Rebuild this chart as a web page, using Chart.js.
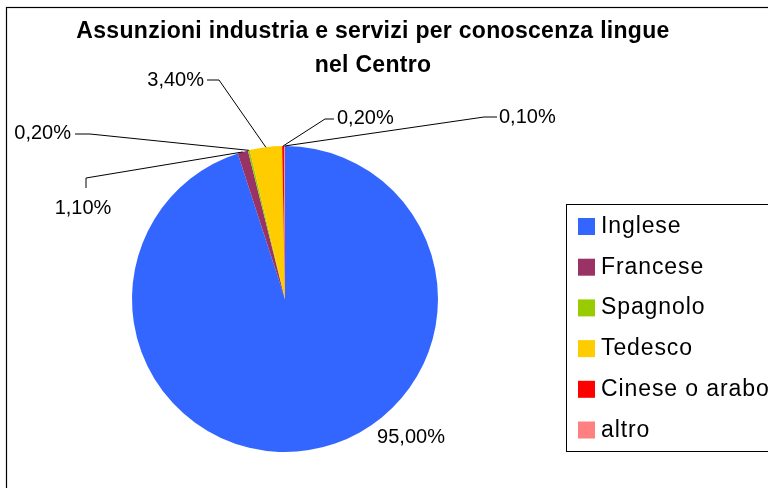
<!DOCTYPE html>
<html>
<head>
<meta charset="utf-8">
<script src="https://cdn.jsdelivr.net/npm/chart.js@4"></script>
<style>
  html, body { margin: 0; padding: 0; background: #fff; }
  #wrap { width: 768px; height: 488px; position: relative; }
</style>
</head>
<body>
<div id="wrap"><canvas id="myChart" width="768" height="488"></canvas></div>
<script>
// data
const TITLE_LINES = ["Assunzioni industria e servizi per conoscenza lingue", "nel Centro"];
const LANGUAGES = ["Inglese", "Francese", "Spagnolo", "Tedesco", "Cinese o arabo", "altro"];
const SHARES = [95.0, 1.1, 0.2, 3.4, 0.2, 0.1];
const COLORS = ["#3366ff", "#993366", "#99cc00", "#ffcc00", "#ff0000", "#ff8080"];

const FONT = "'Liberation Sans', Arial, sans-serif";

// where each percentage label goes, and the bends of its leader line
// (label x/y, text align, leader points after the slice anchor)
const LABEL_PLACES = [
  { x: 411, y: 437, align: 'center', bends: null },
  { x: 83, y: 208, align: 'center', bends: [[86, 178], [86, 188]] },
  { x: 71, y: 133, align: 'right', bends: [[90, 134], [75, 134]] },
  { x: 204, y: 80, align: 'right', bends: [[219, 80], [207, 80]] },
  { x: 337, y: 118, align: 'left', bends: [[325, 119], [334, 119]] },
  { x: 499, y: 117, align: 'left', bends: [[484, 117], [497, 117]] },
];

function fmtPct(v) {
  return v.toFixed(2).replace('.', ',') + '%';
}

// draws frame, title, leader labels and legend box
const decorPlugin = {
  id: 'decor',
  afterDraw(chart) {
    const ctx = chart.ctx;
    ctx.save();

    // outer frame (runs off the right and bottom edge)
    ctx.strokeStyle = '#000';
    ctx.lineWidth = 1.2;
    ctx.strokeRect(6.5, 7.5, 900, 900);

    // title
    ctx.fillStyle = '#000';
    ctx.font = 'bold 23px ' + FONT;
    ctx.letterSpacing = '0.3px';
    ctx.textAlign = 'center';
    ctx.textBaseline = 'alphabetic';
    ctx.fillText(TITLE_LINES[0], 373, 38);
    ctx.fillText(TITLE_LINES[1], 373, 72);
    ctx.letterSpacing = '0px';

    // percentage labels with leader lines
    const arcs = chart.getDatasetMeta(0).data;
    ctx.font = '20px ' + FONT;
    ctx.lineWidth = 1;
    arcs.forEach((arc, i) => {
      const p = LABEL_PLACES[i];
      const mid = (arc.startAngle + arc.endAngle) / 2;
      const ax = arc.x + Math.cos(mid) * arc.outerRadius;
      const ay = arc.y + Math.sin(mid) * arc.outerRadius;
      if (p.bends) {
        ctx.beginPath();
        ctx.moveTo(ax, ay);
        p.bends.forEach(b => ctx.lineTo(b[0], b[1]));
        ctx.strokeStyle = '#000';
        ctx.stroke();
      }
      ctx.textAlign = p.align;
      ctx.textBaseline = 'middle';
      ctx.fillText(fmtPct(SHARES[i]), p.x, p.y);
    });

    // legend
    ctx.strokeStyle = '#000';
    ctx.lineWidth = 1;
    ctx.strokeRect(566.5, 204.5, 400, 247);
    ctx.font = '23px ' + FONT;
    ctx.letterSpacing = '0.9px';
    ctx.textAlign = 'left';
    ctx.textBaseline = 'alphabetic';
    LANGUAGES.forEach((name, i) => {
      const top = 218 + i * 40.7;
      ctx.fillStyle = COLORS[i];
      ctx.fillRect(578, top, 17, 17);
      ctx.fillStyle = '#000';
      ctx.fillText(name, 601, top + 15);
    });

    ctx.restore();
  }
};

const ctx = document.getElementById('myChart').getContext('2d');
const pieChart = new Chart(ctx, {
  type: 'pie',
  data: {
    labels: LANGUAGES,
    datasets: [{
      data: SHARES,
      backgroundColor: COLORS,
      borderWidth: 0,
    }]
  },
  options: {
    responsive: false,
    animation: false,
    layout: {
      // puts the pie at centre (285, 299) with radius 153
      padding: { left: 132, right: 330, top: 146, bottom: 36 },
    },
    plugins: {
      legend: { display: false },
      title: { display: false },
      tooltip: { enabled: false },
    },
  },
  plugins: [decorPlugin],
});
</script>
</body>
</html>
